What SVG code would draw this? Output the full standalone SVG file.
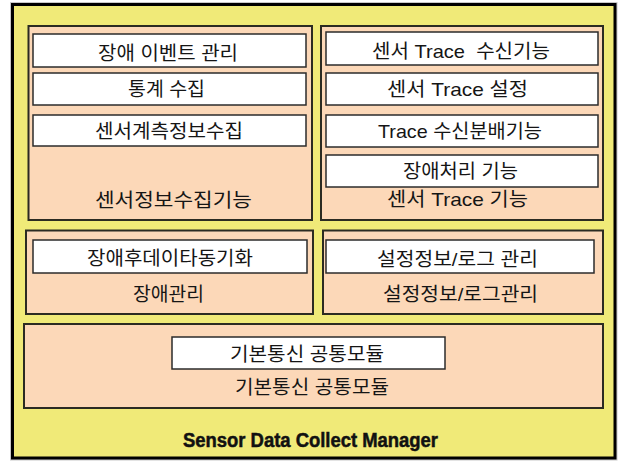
<svg xmlns="http://www.w3.org/2000/svg" width="624" height="461" viewBox="0 0 624 461">
<style>
.halo{fill:none;stroke:#c8c8c8;stroke-width:5}
.outer{fill:#F0EA78;stroke:#000;stroke-width:3}
.grp{fill:#FCD8B8;stroke:#2b2b22;stroke-width:2}
.item{fill:#fff;stroke:#2b2b2b;stroke-width:1.5}
.t{font-family:"Liberation Sans","Noto Sans CJK KR",sans-serif;font-size:19px;fill:#151515;text-anchor:middle}
.title{font-family:"Liberation Sans",Arial,sans-serif;font-weight:bold;font-size:20px;fill:#111;stroke:#111;stroke-width:0.5;text-anchor:middle}
</style>
<rect width="624" height="461" fill="#fff"/>
<g id="manager">
<rect class="halo" x="12.5" y="4.5" width="602.5" height="453.5"/>
<rect class="outer" x="12.5" y="4.5" width="602.5" height="453.5"/>
<text class="title" x="310.5" y="447" textLength="255" lengthAdjust="spacingAndGlyphs">Sensor Data Collect Manager</text>
</g>
<g id="sensor-info">
<rect class="grp" x="28.5" y="26" width="283.5" height="194"/>
<text class="t" x="173.5" y="207" textLength="157" lengthAdjust="spacingAndGlyphs">센서정보수집기능</text>
</g>
<g id="fault-event">
<rect class="item" x="33" y="34" width="273" height="33"/>
<text class="t" x="168" y="60" textLength="140" lengthAdjust="spacingAndGlyphs">장애 이벤트 관리</text>
</g>
<g id="stats">
<rect class="item" x="33" y="73" width="273" height="32"/>
<text class="t" x="166.5" y="96" textLength="77" lengthAdjust="spacingAndGlyphs">통계 수집</text>
</g>
<g id="sensor-measure">
<rect class="item" x="33" y="115" width="273" height="31"/>
<text class="t" x="169" y="138" textLength="148" lengthAdjust="spacingAndGlyphs">센서계측정보수집</text>
</g>
<g id="sensor-trace">
<rect class="grp" x="321" y="26" width="282" height="194"/>
<text class="t" x="457.5" y="206" textLength="141" lengthAdjust="spacingAndGlyphs">센서 Trace 기능</text>
</g>
<g id="trace-recv">
<rect class="item" x="326" y="32" width="272" height="33"/>
<text class="t" x="461" y="58" textLength="178" lengthAdjust="spacingAndGlyphs" xml:space="preserve">센서 Trace  수신기능</text>
</g>
<g id="trace-config">
<rect class="item" x="326" y="73" width="272" height="32"/>
<text class="t" x="457.5" y="96" textLength="141" lengthAdjust="spacingAndGlyphs">센서 Trace 설정</text>
</g>
<g id="trace-dist">
<rect class="item" x="326" y="115" width="272" height="32"/>
<text class="t" x="460" y="138" textLength="164" lengthAdjust="spacingAndGlyphs">Trace 수신분배기능</text>
</g>
<g id="fault-proc">
<rect class="item" x="326" y="155" width="272" height="32"/>
<text class="t" x="460.5" y="178" textLength="115" lengthAdjust="spacingAndGlyphs">장애처리 기능</text>
</g>
<g id="fault-mgmt">
<rect class="grp" x="26" y="230.5" width="287" height="83.5"/>
<text class="t" x="168.5" y="301" textLength="71" lengthAdjust="spacingAndGlyphs">장애관리</text>
</g>
<g id="fault-sync">
<rect class="item" x="33" y="240" width="274" height="33"/>
<text class="t" x="170" y="265" textLength="166" lengthAdjust="spacingAndGlyphs">장애후데이타동기화</text>
</g>
<g id="config-log">
<rect class="grp" x="323" y="230.5" width="280" height="83.5"/>
<text class="t" x="460.5" y="301" textLength="155" lengthAdjust="spacingAndGlyphs">설정정보/로그관리</text>
</g>
<g id="config-log-mgmt">
<rect class="item" x="326" y="240" width="268" height="33"/>
<text class="t" x="457.5" y="266" textLength="161" lengthAdjust="spacingAndGlyphs">설정정보/로그 관리</text>
</g>
<g id="comm">
<rect class="grp" x="24" y="324" width="579" height="84"/>
<text class="t" x="312" y="394" textLength="154" lengthAdjust="spacingAndGlyphs">기본통신 공통모듈</text>
</g>
<g id="comm-module">
<rect class="item" x="172" y="337" width="273" height="32"/>
<text class="t" x="307" y="361" textLength="154" lengthAdjust="spacingAndGlyphs">기본통신 공통모듈</text>
</g>
<g id="connectors"/>
</svg>
